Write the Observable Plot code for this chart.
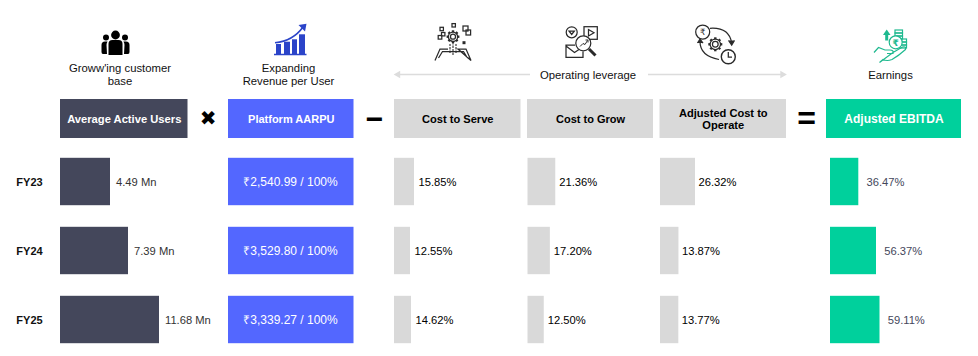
<!DOCTYPE html>
<html><head><meta charset="utf-8">
<script src="https://cdn.jsdelivr.net/npm/d3@7"></script>
<script src="https://cdn.jsdelivr.net/npm/@observablehq/plot@0.6"></script>
<style>html,body{margin:0;padding:0;background:#fff}</style>
</head><body><div id="chart"></div>
<script>
const years = ["FY23","FY24","FY25"];
const activeUsers = [4.49,7.39,11.68];
const aarpu = ["₹2,540.99","₹3,529.80","₹3,339.27"];
const costToServe = [15.85,12.55,14.62];
const costToGrow = [21.36,17.20,12.50];
const costToOperate = [26.32,13.87,13.77];
const ebitda = [36.47,56.37,59.11];

const FONT = "Liberation Sans, Arial, sans-serif";
const rowY = i => 181.5 + 69 * i;
const BAR = 23.7;
const pct = v => v.toFixed(2) + "%";
const mn = v => v + " Mn";
const barCols = [
  {values: activeUsers, x0: 60, len: d3.scaleLinear([4.49,7.39,11.68],[50,68,99]), gap: 5.5, fill: "#44475b", label: mn, ink: "#333"},
  {values: costToServe, x0: 394, len: d3.scaleLinear([12.55,14.62,15.85],[16,17,20]), gap: 4, fill: "#d9d9d9", label: pct, ink: "#000"},
  {values: costToGrow, x0: 527.5, len: d3.scaleLinear([0,100],[0,130]), gap: 3.5, fill: "#d9d9d9", label: pct, ink: "#000"},
  {values: costToOperate, x0: 660, len: d3.scaleLinear([0,100],[0,133]), gap: 3, fill: "#d9d9d9", label: pct, ink: "#000"},
  {values: ebitda, x0: 830, len: d3.scaleLinear([36.47,56.37,59.11],[28.3,46,49.5]), gap: 7.7, fill: "#00d09c", label: pct, ink: "#44475b"}
];
const barRows = barCols.flatMap(c => c.values.map((v,i) => ({
  x1: c.x0, x2: c.x0 + c.len(v), y: rowY(i), fill: c.fill, ink: c.ink, text: c.label(v), gap: c.gap
})));
const headers = [
  {x1:60,x2:187.5,fill:"#44475b",ink:"#fff",size:11.2,lines:["Average Active Users"]},
  {x1:228,x2:353.5,fill:"#5367ff",ink:"#fff",size:11,lines:["Platform AARPU"]},
  {x1:394,x2:520.5,fill:"#d9d9d9",ink:"#000",size:11.1,lines:["Cost to Serve"]},
  {x1:527,x2:653,fill:"#d9d9d9",ink:"#000",size:11,lines:["Cost to Grow"]},
  {x1:659.5,x2:786,fill:"#d9d9d9",ink:"#000",size:11.1,lines:["Adjusted Cost to","Operate"]},
  {x1:826,x2:961,fill:"#00d09c",ink:"#fff",size:12,lines:["Adjusted EBITDA"]}
];
const captions = [
  {x:119.5,y:68,t:"Groww'ing customer"},{x:119.5,y:81,t:"base"},
  {x:288,y:68,t:"Expanding"},{x:288,y:81,t:"Revenue per User"},
  {x:587.5,y:74.5,t:"Operating leverage"},{x:890,y:74.5,t:"Earnings"}
];

function icon(cx, cy, draw){
  return (index, {x, y}) => {
    const g = d3.create("svg:g").attr("transform",`translate(${x(cx)},${y(cy)})`).attr("fill","none");
    draw(g); return g.node();
  };
}
const P = (g,d,o={}) => { const p=g.append("path").attr("d",d); for(const k in o)p.attr(k,o[k]); return p; };
const R = (g,x,y,w,h,o={}) => { const p=g.append("rect").attr("x",x).attr("y",y).attr("width",w).attr("height",h); for(const k in o)p.attr(k,o[k]); return p; };
const C = (g,x,y,r,o={}) => { const p=g.append("circle").attr("cx",x).attr("cy",y).attr("r",r); for(const k in o)p.attr(k,o[k]); return p; };
const line = {stroke:"#2a2a2a","stroke-width":1.25,"fill":"none"};
const gear = (g,x,y,r) => {
  C(g,x,y,r,line); C(g,x,y,r*.55,line);
  for(let a=0;a<8;a++){const t=a*Math.PI/4;P(g,`M${x+r*Math.cos(t)} ${y+r*Math.sin(t)}L${x+(r+1.8)*Math.cos(t)} ${y+(r+1.8)*Math.sin(t)}`,{stroke:"#2a2a2a","stroke-width":2.4});}
};
const icons = [
  icon(115.5,43,g=>{
    C(g,0,-8,4.4,{fill:"#000"}); C(g,-9.5,-5.5,3,{fill:"#000"}); C(g,9.5,-5.5,3,{fill:"#000"});
    P(g,"M-7 12V1Q-7-3-3-3H3Q7-3 7 1V12Z",{fill:"#000"});
    P(g,"M-8.5 11H-12.5Q-14 11-14 9V2Q-14-1.5-10.5-1.5H-8Q-9 0-9 2Z",{fill:"#000"});
    P(g,"M8.5 11H12.5Q14 11 14 9V2Q14-1.5 10.5-1.5H8Q9 0 9 2Z",{fill:"#000"});
  }),
  icon(290,39.5,g=>{
    const b="#2b44c9";
    R(g,-14,4.5,5,10.5,{fill:b}); R(g,-6,2.2,6,12.8,{fill:b}); R(g,2,-.2,5,15.2,{fill:b}); R(g,9,-5.2,6,20.2,{fill:b});
    P(g,"M-16 15H16.5",{stroke:b,"stroke-width":1.4});
    P(g,"M-15 3.2Q3 1.5 13-12.5",{stroke:b,"stroke-width":1.6});
    P(g,"M8.5-14.5L16.5-15.8L15-8Z",{fill:b});
  }),
  icon(453,43,g=>{
    gear(g,0,-6.3,4.6);
    P(g,"M-18 17.5L-13 6H-5M5 6H13L18 17.5ZM-14.5 15L-10.5 8.5H10.5L14.5 15",line);
    P(g,"M-3 10V1M0 12V0M3 10V1",{stroke:"#2a2a2a","stroke-width":1.1,"stroke-dasharray":"2.5 1"});
    [[-13,-15.7,3.4],[-1,-19.4,3.4],[-14.8,-7.5,3.6],[-11.5,-10.5,3.4]].forEach(([x,y,s])=>R(g,x,y,s,s,line));
    R(g,10,-17,5,5,line);R(g,13,-13,4.6,5,line);R(g,9.5,-1.8,3,3,{fill:"#2a2a2a"});
  }),
  icon(583,42.5,g=>{
    C(g,-11.3,-10.2,5.5,line); P(g,"M-14-11.5H-8.6L-11.3-8Z",line);
    R(g,1,-15.8,13.3,12.6,line); P(g,"M5.5-13V-6.5L11-9.7Z",line);
    P(g,"M-8 2.5H-17V14.8H0V9M-17 3.5L-8.5 10L-4 7",line);
    C(g,0.3,0.8,7.5,{stroke:"#2a2a2a","stroke-width":1.25,fill:"#fff"});
    P(g,"M-3 4L0 1L2 2L4.5-2M2.5-2.5H5V0",{stroke:"#2a2a2a","stroke-width":1});
    P(g,"M6 6.5L12.5 13",{stroke:"#2a2a2a","stroke-width":3});
  }),
  icon(718,44,g=>{
    C(g,-15.3,-12,7,line);
    g.append("text").attr("x",-15.3).attr("y",-8.8).attr("text-anchor","middle").attr("fill","#2a2a2a").attr("font-family","DejaVu Sans").attr("font-size",8.5).text("₹");
    gear(g,-2.7,.3,5.2);
    P(g,"M-8-15.7Q11-17 13.7-1",line); P(g,"M10.5-3.5L13.7 1L16.5-3.5",{...line,fill:"#2a2a2a"});
    P(g,"M-18-2.5Q-18 12 1 15.5",line); P(g,"M-20.5-1L-18-5L-15-1",{...line,fill:"#2a2a2a"});
    C(g,10.3,12.7,7,{stroke:"#2a2a2a","stroke-width":1.4,fill:"#fff"});
    P(g,"M10.3 8V13H14",line);
  }),
  icon(890,44.5,g=>{
    const t="#1fb98f", s={stroke:t,"stroke-width":1.2,fill:"none"};
    P(g,"M-16 8L-11.5 3L-5 5.5L0 5.5Q4 5.5 3 9H-3M3 8L12.5 2.5Q16.5 1.5 15.5 5Q9 11 2 15Q-3 17-7 15L-10.5 18Z",s);
    [[5,-14.5],[5,-11.5],[5,-8.5],[9,-5.5],[9,-2.5],[9,.5]].forEach(([x,y])=>R(g,x,y,7.5,3,s));
    C(g,5.7,-2.2,6.5,{stroke:t,"stroke-width":1.2,fill:"#fff"});
    g.append("text").attr("x",5.7).attr("y",1.2).attr("text-anchor","middle").attr("fill",t).attr("font-family","DejaVu Sans").attr("font-weight","bold").attr("font-size",9).text("₹");
    P(g,"M-3.3-4V-10",{stroke:t,"stroke-width":3});
    P(g,"M-7-9.5L-3.3-15L.5-9.5Z",{fill:t});
  })
];

const chart = Plot.plot({
  width: 978, height: 356, margin: 0,
  x: {domain:[0,978],range:[0,978],axis:null},
  y: {domain:[0,356],range:[0,356],axis:null},
  style: {fontFamily: FONT, background:"#fff"},
  marks: [
    Plot.text(captions,{x:"x",y:"y",text:"t",fontSize:11.3,fill:"#111"}),
    Plot.ruleY([74],{x1:396,x2:530,stroke:"#dcdcdc",strokeWidth:1.6}),
    Plot.ruleY([74],{x1:648,x2:783,stroke:"#dcdcdc",strokeWidth:1.6}),
    Plot.dot([{x:397.5,r:-90},{x:782,r:90}],{x:"x",y:()=>74,symbol:"triangle",r:2.8,fill:"#dcdcdc",rotate:"r"}),
    Plot.rect(headers,{x1:"x1",x2:"x2",y1:()=>99,y2:()=>138,fill:"fill"}),
    Plot.text(headers,{x:d=>(d.x1+d.x2)/2,y:()=>118.5,text:d=>d.lines.join("\n"),fill:"ink",fontWeight:"bold",fontSize:"size",lineHeight:1.15}),
    Plot.text(["✖"],{x:()=>207.5,y:()=>118.5,text:d=>d,fontFamily:"DejaVu Sans",fontSize:20,fill:"#000"}),
    Plot.text(["−"],{x:()=>374,y:()=>118.5,text:d=>d,fontWeight:"bold",fontSize:30,fill:"#000"}),
    Plot.text(["="],{x:()=>806,y:()=>118.5,text:d=>d,fontWeight:"bold",fontSize:32,fill:"#000"}),
    Plot.text(years,{x:()=>29,y:(d,i)=>rowY(i),text:d=>d,fontWeight:"bold",fontSize:11,fill:"#111"}),
    Plot.rect(aarpu,{x1:()=>228,x2:()=>353.5,y1:(d,i)=>rowY(i)-BAR,y2:(d,i)=>rowY(i)+BAR,fill:"#5367ff"}),
    Plot.text(aarpu,{x:()=>290,y:(d,i)=>rowY(i),text:d=>d+" / 100%",fill:"#fff",fontSize:12}),
    Plot.rect(barRows,{x1:"x1",x2:"x2",y1:d=>d.y-BAR,y2:d=>d.y+BAR,fill:"fill"}),
    Plot.text(barRows,{x:d=>d.x2+d.gap,y:d=>d.y+0.5,text:"text",fill:"ink",fontSize:11.2,textAnchor:"start"}),
    ...icons
  ]
});
document.getElementById("chart").append(chart);
</script></body></html>
